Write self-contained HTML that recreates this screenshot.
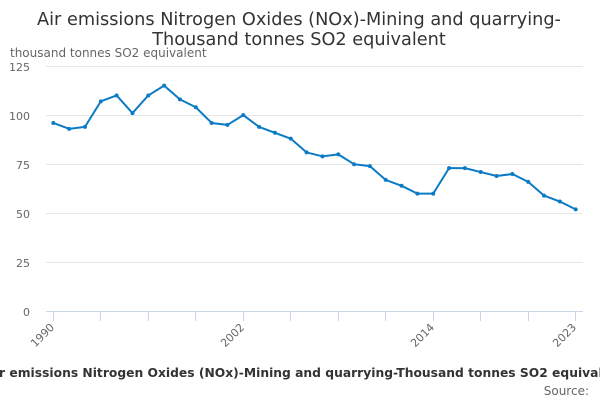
<!DOCTYPE html>
<html>
<head>
<meta charset="utf-8">
<style>
html,body{margin:0;padding:0;background:#fff;}
svg{display:block;font-family:"DejaVu Sans","Liberation Sans",sans-serif;}
</style>
</head>
<body>
<svg width="600" height="400" viewBox="0 0 600 400" xmlns="http://www.w3.org/2000/svg">
<rect width="600" height="400" fill="#fff"/>
<!-- Title -->
<text x="299" y="25" text-anchor="middle" font-size="17.7" fill="#333333">Air emissions Nitrogen Oxides (NOx)-Mining and quarrying-</text>
<text x="299" y="45" text-anchor="middle" font-size="17.7" fill="#333333">Thousand tonnes SO2 equivalent</text>
<!-- Y axis title -->
<text x="10" y="57" font-size="12" fill="#666666">thousand tonnes SO2 equivalent</text>
<!-- Gridlines -->
<g stroke="#e6e6e6" stroke-width="1">
<line x1="46" y1="66.5" x2="583" y2="66.5"/>
<line x1="46" y1="115.5" x2="583" y2="115.5"/>
<line x1="46" y1="164.5" x2="583" y2="164.5"/>
<line x1="46" y1="213.5" x2="583" y2="213.5"/>
<line x1="46" y1="262.5" x2="583" y2="262.5"/>
</g>
<!-- Y labels -->
<g font-size="11" fill="#666666" text-anchor="end">
<text x="30" y="71">125</text>
<text x="30" y="120">100</text>
<text x="30" y="169">75</text>
<text x="30" y="218">50</text>
<text x="30" y="267">25</text>
<text x="30" y="316">0</text>
</g>
<!-- X axis -->
<line x1="46" y1="311.5" x2="583" y2="311.5" stroke="#ccd6eb" stroke-width="1"/>
<g stroke="#ccd6eb" stroke-width="1">
<line x1="53.5" y1="311" x2="53.5" y2="321"/>
<line x1="100.5" y1="311" x2="100.5" y2="321"/>
<line x1="148.5" y1="311" x2="148.5" y2="321"/>
<line x1="195.5" y1="311" x2="195.5" y2="321"/>
<line x1="243.5" y1="311" x2="243.5" y2="321"/>
<line x1="290.5" y1="311" x2="290.5" y2="321"/>
<line x1="338.5" y1="311" x2="338.5" y2="321"/>
<line x1="385.5" y1="311" x2="385.5" y2="321"/>
<line x1="433.5" y1="311" x2="433.5" y2="321"/>
<line x1="480.5" y1="311" x2="480.5" y2="321"/>
<line x1="528.5" y1="311" x2="528.5" y2="321"/>
<line x1="575.5" y1="311" x2="575.5" y2="321"/>
</g>
<g font-size="11" fill="#666666" text-anchor="end">
<text x="55" y="328" transform="rotate(-45 55 328)">1990</text>
<text x="245" y="328" transform="rotate(-45 245 328)">2002</text>
<text x="435" y="328" transform="rotate(-45 435 328)">2014</text>
<text x="577" y="328" transform="rotate(-45 577 328)">2023</text>
</g>
<!-- Series -->
<polyline fill="none" stroke="#0c7bc5" stroke-width="2" stroke-linejoin="round" stroke-linecap="round"
points="53.3,122.96 69.13,128.85 84.96,126.88 100.79,101.35 116.62,95.46 132.45,113.14 148.28,95.46 164.11,85.64 179.94,99.39 195.77,107.24 211.6,122.96 227.43,124.92 243.26,115.1 259.09,126.88 274.92,132.78 290.75,138.67 306.58,152.42 322.41,156.34 338.24,154.38 354.07,164.2 369.9,166.16 385.73,179.91 401.56,185.8 417.39,193.66 433.22,193.66 449.05,168.13 464.88,168.13 480.71,172.06 496.54,175.98 512.37,174.02 528.2,181.88 544.03,195.62 559.86,201.52 575.69,209.37"/>
<g fill="#0c7bc5">
<circle cx="53.3" cy="122.96" r="2"/>
<circle cx="69.13" cy="128.85" r="2"/>
<circle cx="84.96" cy="126.88" r="2"/>
<circle cx="100.79" cy="101.35" r="2"/>
<circle cx="116.62" cy="95.46" r="2"/>
<circle cx="132.45" cy="113.14" r="2"/>
<circle cx="148.28" cy="95.46" r="2"/>
<circle cx="164.11" cy="85.64" r="2"/>
<circle cx="179.94" cy="99.39" r="2"/>
<circle cx="195.77" cy="107.24" r="2"/>
<circle cx="211.6" cy="122.96" r="2"/>
<circle cx="227.43" cy="124.92" r="2"/>
<circle cx="243.26" cy="115.1" r="2"/>
<circle cx="259.09" cy="126.88" r="2"/>
<circle cx="274.92" cy="132.78" r="2"/>
<circle cx="290.75" cy="138.67" r="2"/>
<circle cx="306.58" cy="152.42" r="2"/>
<circle cx="322.41" cy="156.34" r="2"/>
<circle cx="338.24" cy="154.38" r="2"/>
<circle cx="354.07" cy="164.2" r="2"/>
<circle cx="369.9" cy="166.16" r="2"/>
<circle cx="385.73" cy="179.91" r="2"/>
<circle cx="401.56" cy="185.8" r="2"/>
<circle cx="417.39" cy="193.66" r="2"/>
<circle cx="433.22" cy="193.66" r="2"/>
<circle cx="449.05" cy="168.13" r="2"/>
<circle cx="464.88" cy="168.13" r="2"/>
<circle cx="480.71" cy="172.06" r="2"/>
<circle cx="496.54" cy="175.98" r="2"/>
<circle cx="512.37" cy="174.02" r="2"/>
<circle cx="528.2" cy="181.88" r="2"/>
<circle cx="544.03" cy="195.62" r="2"/>
<circle cx="559.86" cy="201.52" r="2"/>
<circle cx="575.69" cy="209.37" r="2"/>
</g>
<!-- X axis title -->
<text x="305.5" y="377" text-anchor="middle" font-size="12.3" font-weight="bold" fill="#333333">Air emissions Nitrogen Oxides (NOx)-Mining and quarrying-Thousand tonnes SO2 equivalent</text>
<!-- Source -->
<text x="589" y="395" text-anchor="end" font-size="12" fill="#666666">Source:</text>
</svg>
</body>
</html>
